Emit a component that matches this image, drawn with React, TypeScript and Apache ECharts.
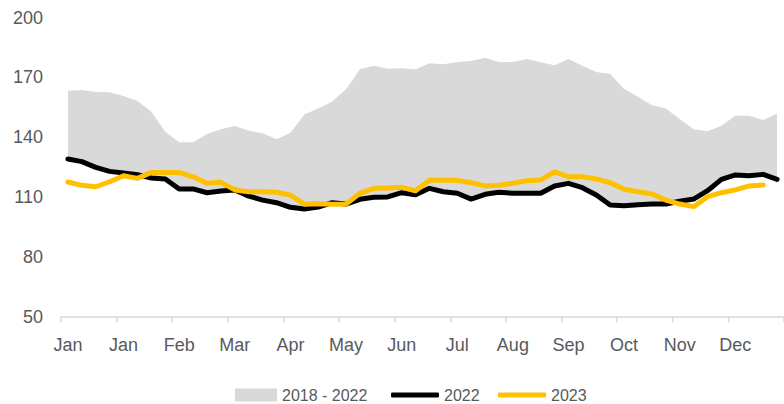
import React, { useEffect, useRef } from "react";
import * as echarts from "echarts";

const monthLabels = ["Jan", "Jan", "Feb", "Mar", "Apr", "May", "Jun", "Jul", "Aug", "Sep", "Oct", "Nov", "Dec"];
const weeksPerLabel = 4;
const yTicks = { min: 50, max: 200, interval: 30 };

const rangeMax2018_2022 = [
  163.3, 163.6, 162.6, 162.5, 160.6, 158.1, 152.7, 142.7, 137.4, 137.4, 141.6, 143.9, 145.6,
  143.2, 141.9, 138.9, 142.2, 151.4, 154.4, 157.8, 164, 174, 175.8, 174.3, 174.5, 174,
  177, 176.5, 177.7, 178.2, 179.8, 177.7, 177.7, 179.2, 177.5, 176, 179.2, 175.8, 172.7,
  171.7, 164.1, 160.3, 156, 154.3, 149.1, 144, 142.9, 145.7, 150.7, 150.7, 148.6, 151.9,
];

const line2022 = [
  129, 127.7, 124.8, 122.8, 122, 121.1, 119.5, 119, 114, 114, 112.1, 113, 113.5,
  110.4, 108.4, 107.1, 104.8, 103.9, 104.9, 107.1, 106.4, 108.8, 109.8, 110, 112.1, 111.1,
  114.3, 112.6, 111.8, 108.9, 111.3, 112.3, 111.8, 111.8, 111.8, 115.5, 116.8, 114.6, 111,
  105.9, 105.6, 106.1, 106.4, 106.4, 107.8, 108.9, 113.1, 118.8, 121, 120.6, 121.3, 118.8,
];

const line2023: (number | null)[] = [
  117.5, 115.8, 115.1, 117.6, 120.6, 119.3, 122.3, 122.3, 122.3, 120.1, 116.8, 117.3, 113.5,
  112.6, 112.6, 112.3, 110.9, 106.3, 106.6, 106.3, 106.4, 111.8, 114.3, 114.5, 114.8, 113.1,
  118.3, 118.3, 118.3, 117.1, 115.5, 115.8, 116.8, 118.1, 118.5, 122.6, 120.1, 120.1, 119,
  117.1, 113.8, 112.6, 111.5, 108.4, 106.4, 105.1, 110.1, 112.1, 113.5, 115.5, 116, null,
];

// lower edge of the 2018-2022 range follows the 2022 line
const rangeMin2018_2022 = line2022;

const categories = rangeMax2018_2022.map((_, i) => monthLabels[Math.floor(i / weeksPerLabel)]);

const FONT = "'Liberation Sans', Arial, sans-serif";
const TEXT = "#595959";

export default function App() {
  const ref = useRef<HTMLDivElement>(null);
  useEffect(() => {
    if (!ref.current) return;
    const chart = echarts.init(ref.current, undefined, { renderer: "svg" });
    const spread = rangeMax2018_2022.map((v, i) => +(v - rangeMin2018_2022[i]).toFixed(2));
    const legendText = { color: TEXT, fontSize: 16, lineHeight: 16, fontFamily: FONT };
    chart.setOption({
      animation: false,
      backgroundColor: "#ffffff",
      textStyle: { fontFamily: FONT },
      grid: { left: 61, right: -4, top: 17.5, bottom: 87.5 },
      xAxis: {
        type: "category",
        data: categories,
        boundaryGap: true,
        axisLine: { lineStyle: { color: "#d9d9d9", width: 1.5 } },
        axisTick: { show: true, interval: weeksPerLabel - 1, length: 6, lineStyle: { color: "#d9d9d9", width: 1.5 } },
        axisLabel: { interval: weeksPerLabel - 1, color: TEXT, fontSize: 18, fontFamily: FONT, margin: 19 },
        splitLine: { show: false },
      },
      yAxis: {
        type: "value",
        min: yTicks.min,
        max: yTicks.max,
        interval: yTicks.interval,
        axisLine: { show: false },
        axisTick: { show: false },
        splitLine: { show: false },
        axisLabel: { color: TEXT, fontSize: 18, fontFamily: FONT, margin: 18 },
      },
      legend: [
        {
          data: [{ name: "2018 - 2022", icon: "rect" }],
          left: 235,
          top: 387,
          padding: 0,
          itemWidth: 42,
          itemHeight: 13,
          textStyle: legendText,
        },
        {
          data: [{ name: "2022", icon: "roundRect" }],
          left: 391,
          top: 387,
          padding: 0,
          itemWidth: 48,
          itemHeight: 5,
          textStyle: legendText,
        },
        {
          data: [{ name: "2023", icon: "roundRect" }],
          left: 498,
          top: 387,
          padding: 0,
          itemWidth: 48,
          itemHeight: 5,
          textStyle: legendText,
        },
      ],
      series: [
        {
          name: "rangeBase",
          type: "line",
          stack: "band",
          data: rangeMin2018_2022,
          symbol: "none",
          lineStyle: { opacity: 0, width: 0 },
          silent: true,
        },
        {
          name: "2018 - 2022",
          type: "line",
          stack: "band",
          data: spread,
          symbol: "none",
          lineStyle: { opacity: 0, width: 0 },
          areaStyle: { color: "#d9d9d9", opacity: 1 },
          itemStyle: { color: "#d9d9d9" },
        },
        {
          name: "2022",
          type: "line",
          data: line2022,
          symbol: "none",
          itemStyle: { color: "#000000" },
          lineStyle: { color: "#000000", width: 5, cap: "round", join: "round" },
        },
        {
          name: "2023",
          type: "line",
          data: line2023,
          symbol: "none",
          itemStyle: { color: "#ffc000" },
          lineStyle: { color: "#ffc000", width: 5, cap: "round", join: "round" },
        },
      ],
    });
    return () => chart.dispose();
  }, []);
  return (
    <div
      ref={ref}
      style={{ position: "fixed", left: 0, top: 0, width: 784, height: 404 }}
    />
  );
}
